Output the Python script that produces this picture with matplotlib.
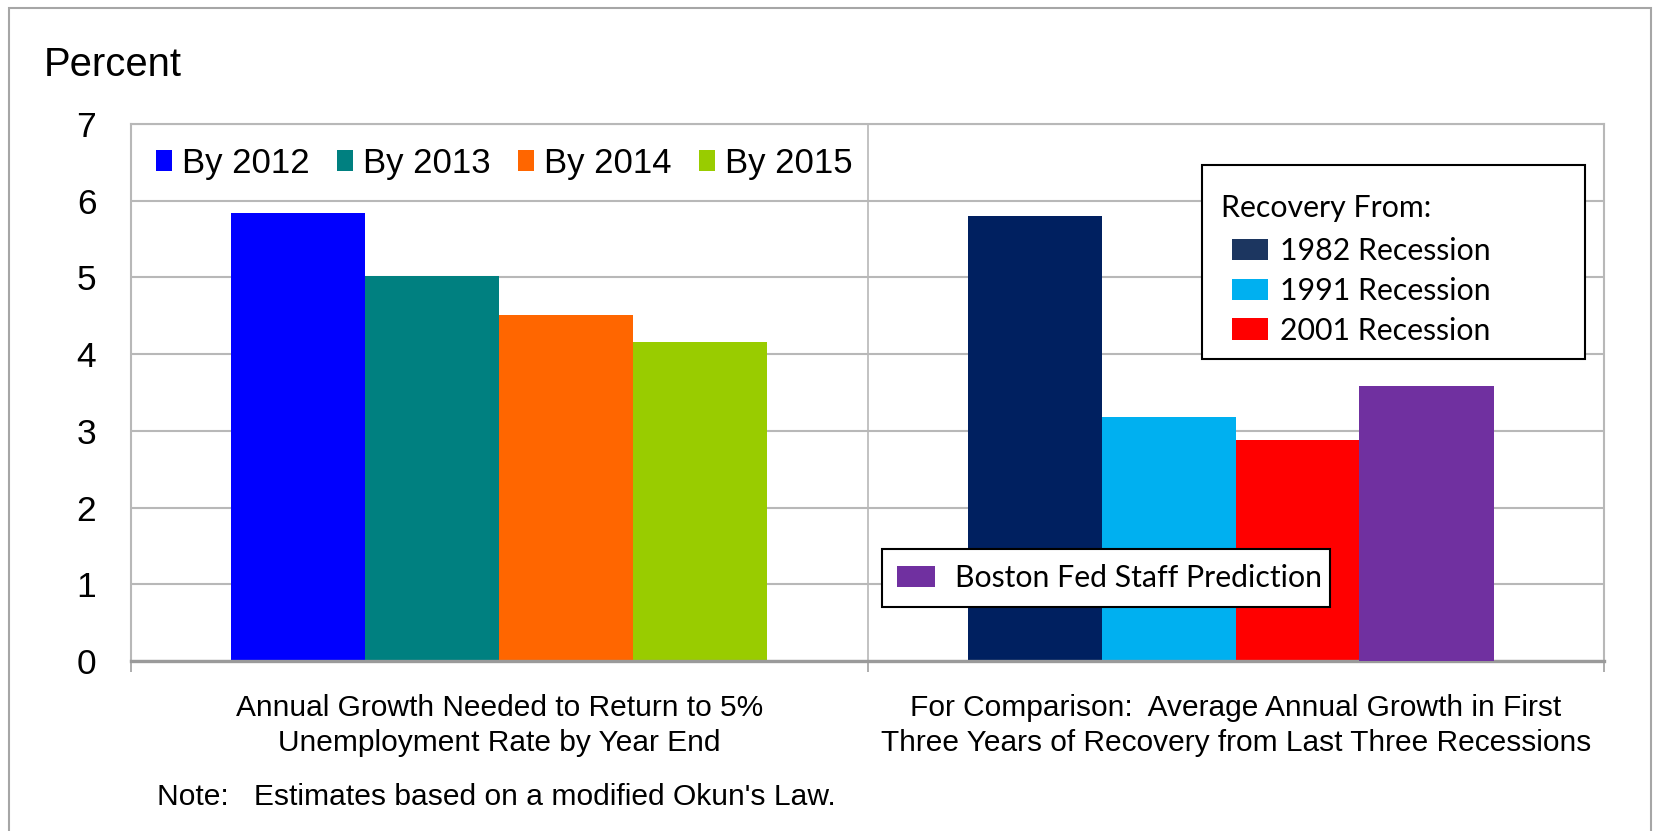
import matplotlib
matplotlib.use("Agg")
import matplotlib.pyplot as plt
from matplotlib.patches import Patch, Rectangle
import numpy as np

# data
categories = ["Annual Growth Needed to Return to 5%\nUnemployment Rate by Year End",
              "For Comparison:  Average Annual Growth in First\nThree Years of Recovery from Last Three Recessions"]
needed_labels = ["By 2012", "By 2013", "By 2014", "By 2015"]
needed_values = [5.84, 5.02, 4.51, 4.16]
needed_colors = ["#0000FF", "#008080", "#FF6600", "#99CC00"]
recovery_labels = ["1982 Recession", "1991 Recession", "2001 Recession"]
recovery_values = [5.80, 3.18, 2.88]
recovery_colors = ["#002060", "#00B0F0", "#FF0000"]
recovery_swatch = ["#1C3660", "#00B0F0", "#FF0000"]
prediction_label = "Boston Fed Staff Prediction"
prediction_value = 3.58
prediction_color = "#7030A0"
y_ticks = [0, 1, 2, 3, 4, 5, 6, 7]

plt.rcParams['font.family'] = ['Liberation Sans', 'DejaVu Sans']
GRID = "#b8b8b8"

fig = plt.figure(figsize=(16.59, 8.31), dpi=100)
ax = fig.add_axes([131/1659, 170/831, 1473/1659, 537/831])

W = 0.182
offsets = (np.arange(4) - 1.5) * W

# left group
for i in range(4):
    ax.bar(0.5 + offsets[i], needed_values[i], W, color=needed_colors[i],
           label=needed_labels[i], linewidth=0, zorder=2)
# right group (the prediction bar overlaps the 2001 bar a little, as in the original)
for i in range(3):
    ax.bar(1.5 + offsets[i], recovery_values[i], W, color=recovery_colors[i],
           linewidth=0, zorder=2)
ax.bar(1.5 + offsets[3] - 0.014, prediction_value, W, color=prediction_color,
       linewidth=0, zorder=3)

ax.set_xlim(0, 2)
ax.set_ylim(0, 7)
ax.set_yticks(y_ticks)
ax.tick_params(axis='y', length=0, pad=25, labelsize=25.5)
ax.set_xticks([0, 1, 2])
ax.set_xticklabels([])
ax.tick_params(axis='x', length=8, width=1.2, color="#a0a0a0", direction='out')
ax.grid(axis='y', color=GRID, lw=1.5)
ax.set_axisbelow(True)
ax.axvline(1, color=GRID, lw=1.2, zorder=0)
for s in ['left', 'top', 'right']:
    ax.spines[s].set_color(GRID)
    ax.spines[s].set_linewidth(1.5)
ax.spines['bottom'].set_color("#9a9a9a")
ax.spines['bottom'].set_linewidth(2.4)

# category labels under the axis
for x, lab in zip([0.5, 1.5], categories):
    ax.text(x, -0.121, lab, transform=ax.get_xaxis_transform(), ha='center',
            va='center', multialignment='center', fontsize=21.5, linespacing=1.32)

# legend for the left group
h1 = [Patch(facecolor=c, label=l) for c, l in zip(needed_colors, needed_labels)]
leg1 = ax.legend(handles=h1, loc='center left', bbox_to_anchor=(0.017, 0.927), ncol=4,
                 frameon=False, fontsize=25, handlelength=0.46, handleheight=0.58,
                 handletextpad=0.28, columnspacing=0.8, borderpad=0, borderaxespad=0)
ax.add_artist(leg1)

# "Recovery From:" box: frame, title and entries
lato = {'family': 'Lato', 'size': 21.8}
ax.add_patch(Rectangle((0.7271, 0.5624), 0.26, 0.3612, transform=ax.transAxes,
                       facecolor='white', edgecolor='black', lw=1.5, zorder=5))
ax.text(0.7271 + 19/1473, (661 - 208)/537, "Recovery From:", transform=ax.transAxes,
        fontdict=lato, va='center', ha='left', zorder=6)
h2 = [Patch(facecolor=c, label=l) for c, l in zip(recovery_swatch, recovery_labels)]
leg2 = ax.legend(handles=h2, loc='center left', bbox_to_anchor=(0.7271 + 30/1473, (661 - 291)/537),
                 borderaxespad=0, borderpad=0, prop=lato, frameon=False,
                 handlelength=1.19, handleheight=0.7, handletextpad=0.4, labelspacing=0.38)
leg2.set_zorder(7)
ax.add_artist(leg2)

h3 = [Patch(facecolor=prediction_color, label=prediction_label)]
leg3 = ax.legend(handles=h3, loc='upper left', bbox_to_anchor=(0.5098, 0.0, 0.3041, 0.2086),
                 mode='expand', borderaxespad=0, prop=lato, frameon=True, fancybox=False,
                 edgecolor='black', framealpha=1, handlelength=1.25, handleheight=0.7,
                 handletextpad=0.66, borderpad=0.5)
leg3.get_frame().set_linewidth(1.5)

fig.text(44/1659, 1 - 65/831, "Percent", fontsize=28.8, va='center', ha='left')
fig.text(157/1659, 1 - 797/831, "Note:   Estimates based on a modified Okun's Law.",
         fontsize=21.6, va='center', ha='left')

fig.add_artist(Rectangle((9/1659, -0.05), 1642/1659, 823/831 + 0.05, transform=fig.transFigure,
                         fill=False, edgecolor="#a6a6a6", lw=1.5))

fig.savefig("out.png", dpi=100)
